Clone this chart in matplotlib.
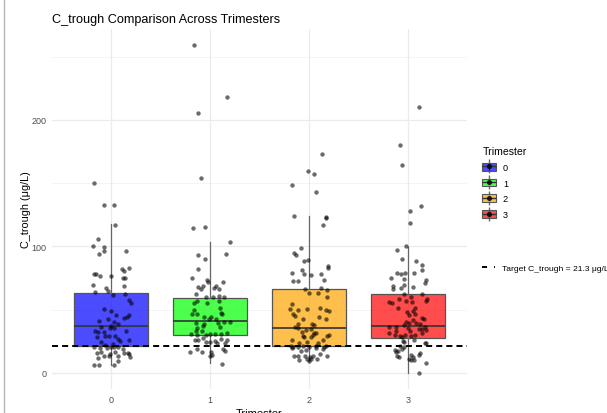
"""C_trough by trimester: box plot with jittered points and target line."""

import matplotlib

matplotlib.use("Agg")
import matplotlib.pyplot as plt
from matplotlib.legend_handler import HandlerTuple
from matplotlib.lines import Line2D
from matplotlib.patches import Patch

plt.rcParams["font.family"] = ["Liberation Sans", "DejaVu Sans"]

trimesters = ["0", "1", "2", "3"]
box_colors = ["#0000FF", "#00FF00", "#FFA500", "#FF0000"]
target = 21.3

# box statistics (lower whisker, Q1, median, Q3, upper whisker)
whisker_low = [6.5, 7.6, 9.7, 0.2]
q1 = [21.3, 29.7, 21.3, 27.3]
median = [37.3, 41.2, 35.4, 37.3]
q3 = [63.5, 59.3, 66.4, 62.7]
whisker_high = [117.9, 103.4, 124.4, 99.5]

# individual observations and their horizontal jitter (category units)
t0_values = [150.2, 132.5, 132.5, 117.3, 105.5, 100.3, 99.7, 96.0, 93.7, 96.6,
             78.2, 78.2, 76.6, 76.4, 82.4, 80.6, 82.7, 75.3, 75.3, 69.6,
             67.5, 68.5, 64.8, 64.0, 62.2, 61.4, 57.5, 55.6, 50.6, 49.1,
             45.9, 44.4, 43.3, 45.4, 42.3, 40.7, 40.2, 38.6, 37.0, 35.4,
             35.4, 36.0, 32.8, 32.3, 32.3, 33.3, 28.9, 29.4, 29.4, 27.0,
             26.0, 28.1, 25.4, 23.1, 24.2, 22.3, 20.2, 19.9, 19.7, 20.2,
             20.2, 20.2, 18.9, 15.7, 16.3, 13.6, 13.1, 13.6, 15.7, 15.0,
             12.4, 11.6, 6.5, 6.5, 6.5, 15.0, 16.3, 15.5, 9.7]
t0_jitter = [-0.17, -0.07, 0.03, 0.04, -0.13, -0.19, -0.07, -0.07, -0.12, 0.15,
             -0.18, -0.15, -0.11, 0.00, 0.11, 0.13, 0.18, 0.12, 0.14, -0.19,
             -0.05, 0.13, -0.03, -0.16, 0.14, 0.02, 0.18, 0.20, -0.07, 0.00,
             0.18, 0.16, 0.13, 0.05, -0.03, -0.12, 0.03, 0.07, 0.00, -0.01,
             0.03, -0.10, -0.16, -0.13, -0.07, 0.15, -0.06, -0.02, 0.04, 0.07,
             0.18, -0.14, 0.09, 0.02, -0.10, -0.06, -0.17, -0.11, -0.04, 0.00,
             0.03, 0.07, 0.12, -0.14, -0.10, -0.07, -0.02, 0.07, 0.17, 0.18,
             0.19, -0.13, -0.18, -0.12, 0.03, -0.01, 0.04, 0.13, 0.07]

t1_values = [258.9, 218.4, 205.8, 153.7, 114.2, 115.0, 103.4, 93.5, 94.0, 89.8,
             82.2, 75.3, 73.2, 71.9, 71.9, 68.0, 68.8, 66.1, 68.8, 67.2,
             66.7, 62.0, 60.1, 60.1, 60.9, 60.1, 55.6, 56.5, 54.9, 56.7,
             51.2, 49.9, 46.7, 46.5, 47.2, 46.2, 44.1, 42.8, 44.4, 42.5,
             40.2, 40.2, 39.1, 38.3, 39.4, 37.3, 35.2, 36.0, 32.8, 30.7,
             32.8, 30.2, 30.9, 30.9, 30.4, 31.3, 30.2, 26.2, 26.0, 27.3,
             24.2, 24.2, 25.0, 23.4, 26.8, 26.2, 23.6, 18.9, 17.6, 18.9,
             16.3, 16.3, 16.3, 14.4, 13.1, 7.1]
t1_jitter = [-0.16, 0.17, -0.12, -0.09, -0.17, -0.05, 0.20, -0.12, 0.16, -0.05,
             -0.12, -0.18, -0.03, -0.02, 0.13, -0.12, -0.07, -0.09, 0.06, 0.04,
             0.09, -0.14, -0.04, 0.03, 0.09, 0.14, -0.16, -0.13, -0.03, 0.09,
             0.10, -0.16, -0.18, -0.13, 0.11, 0.12, 0.01, -0.01, -0.06, 0.06,
             0.14, 0.20, -0.14, -0.06, 0.08, -0.07, -0.13, 0.10, -0.14, -0.19,
             -0.08, -0.04, 0.00, 0.05, 0.11, 0.17, -0.13, -0.15, -0.12, -0.07,
             -0.04, 0.00, 0.05, 0.07, 0.11, 0.17, 0.15, 0.13, 0.15, -0.13,
             -0.20, -0.08, 0.01, 0.02, 0.00, 0.12]

t2_values = [173.2, 159.6, 157.2, 148.6, 143.1, 124.4, 123.1, 122.6, 116.8, 98.7,
             94.7, 92.9, 89.5, 88.4, 84.3, 83.2, 81.4, 79.3, 78.0, 77.4,
             78.2, 73.5, 72.4, 73.0, 66.7, 66.9, 65.9, 63.2, 63.0, 60.4,
             54.3, 50.2, 49.9, 50.2, 51.0, 49.6, 49.1, 46.5, 44.6, 43.9,
             42.8, 42.3, 38.3, 37.8, 38.6, 36.0, 35.2, 34.1, 34.4, 32.3,
             31.5, 31.7, 30.2, 29.4, 28.1, 28.1, 30.2, 28.9, 26.2, 26.2,
             24.6, 23.9, 23.4, 21.0, 20.8, 20.8, 21.0, 20.8, 21.2, 20.8,
             21.0, 19.8, 18.4, 19.7, 18.9, 17.6, 15.0, 13.4, 13.4, 13.6,
             12.8, 13.4, 13.6, 10.5, 11.0, 10.8, 11.0, 9.7]
t2_jitter = [0.13, -0.01, 0.05, -0.17, 0.07, -0.15, 0.17, 0.17, 0.14, -0.08,
             -0.15, -0.13, -0.01, -0.05, 0.19, 0.19, -0.07, -0.17, -0.05, 0.02,
             0.12, 0.15, -0.16, -0.11, -0.04, 0.12, 0.18, 0.00, 0.09, 0.18,
             -0.17, -0.19, -0.11, -0.02, 0.11, 0.17, 0.20, -0.16, -0.14, 0.10,
             0.17, -0.06, 0.03, 0.05, -0.11, -0.14, -0.11, -0.03, 0.02, -0.07,
             0.05, 0.07, 0.04, -0.06, -0.05, 0.02, 0.20, 0.18, 0.14, -0.17,
             -0.02, 0.09, -0.10, -0.18, -0.16, -0.11, -0.06, 0.00, 0.07, 0.15,
             0.17, -0.17, -0.03, 0.07, 0.14, -0.08, 0.11, -0.15, -0.11, -0.04,
             0.01, 0.04, 0.18, -0.10, -0.02, 0.02, 0.08, 0.00]

t3_values = [210.5, 180.3, 164.3, 132.0, 127.6, 118.4, 100.0, 97.4, 90.0, 88.4,
             85.6, 81.4, 79.0, 79.0, 78.0, 75.1, 78.7, 74.0, 73.5, 70.9,
             68.8, 66.4, 66.9, 69.5, 68.0, 62.2, 62.7, 59.8, 58.5, 56.9,
             56.4, 55.1, 56.4, 58.3, 57.2, 51.4, 51.4, 49.1, 47.8, 46.5,
             45.4, 43.6, 42.5, 41.7, 40.4, 39.1, 39.1, 38.6, 37.8, 36.0,
             36.0, 36.0, 34.6, 34.4, 34.1, 35.4, 33.3, 31.5, 33.1, 31.3,
             30.2, 30.2, 30.2, 28.9, 28.1, 28.9, 25.4, 24.2, 26.0, 21.5,
             23.6, 23.6, 20.2, 18.1, 17.6, 18.9, 16.3, 15.5, 14.4, 14.4,
             13.4, 12.8, 12.4, 11.0, 10.5, 10.2, 7.6, 0.2]
t3_jitter = [0.11, -0.08, -0.06, 0.13, 0.02, 0.02, -0.02, -0.11, -0.06, 0.08,
             0.14, 0.14, 0.06, -0.11, -0.07, -0.17, -0.03, -0.04, 0.19, 0.18,
             -0.15, -0.15, -0.07, -0.04, 0.05, -0.04, 0.14, 0.03, -0.09, -0.02,
             -0.19, -0.16, 0.04, 0.20, 0.19, -0.10, 0.07, 0.05, -0.01, 0.07,
             0.01, 0.14, 0.16, 0.05, -0.02, 0.01, 0.08, 0.12, -0.04, -0.19,
             -0.12, 0.17, 0.14, 0.11, 0.19, 0.00, -0.12, -0.19, 0.02, 0.14,
             -0.13, -0.03, 0.07, -0.08, -0.06, 0.03, -0.05, -0.04, 0.06, -0.08,
             0.17, 0.19, -0.04, -0.13, -0.10, -0.06, -0.12, 0.12, 0.11, 0.03,
             -0.11, -0.09, 0.05, 0.01, 0.03, 0.06, 0.19, 0.11]

all_values = [t0_values, t1_values, t2_values, t3_values]
all_jitter = [t0_jitter, t1_jitter, t2_jitter, t3_jitter]

W, H = 607, 414
fig = plt.figure(figsize=(W / 100, H / 100), dpi=100)
ax = fig.add_axes([52 / W, (H - 390) / H, (467 - 52) / W, (390 - 30) / H])

grey_text = "#4d4d4d"
for y in (50, 150, 250):
    ax.axhline(y, color="#f2f2f2", linewidth=0.6, zorder=0)
for y in (0, 100, 200):
    ax.axhline(y, color="#ebebeb", linewidth=0.9, zorder=0)
for i in range(len(trimesters)):
    ax.axvline(i, color="#ebebeb", linewidth=0.9, zorder=0)

stats = [
    dict(whislo=whisker_low[i], q1=q1[i], med=median[i], q3=q3[i], whishi=whisker_high[i], fliers=[])
    for i in range(len(trimesters))
]
bp = ax.bxp(
    stats,
    positions=range(len(trimesters)),
    widths=0.75,
    patch_artist=True,
    showcaps=False,
    boxprops=dict(edgecolor="#555555", linewidth=0.9),
    whiskerprops=dict(color="#666666", linewidth=0.9),
    medianprops=dict(color="#333333", linewidth=1.2),
    zorder=2,
)
for patch, color in zip(bp["boxes"], box_colors):
    patch.set_facecolor(matplotlib.colors.to_rgba(color, 0.7))

ax.axhline(target, color="black", linewidth=1.4, dashes=(3.1, 2.1), zorder=3)

for i, (vals, jit) in enumerate(zip(all_values, all_jitter)):
    xs = [i + j for j in jit]
    ax.scatter(xs, vals, s=10, color="black", alpha=0.58, linewidths=0, zorder=4)

ax.set_xlim(-0.6, 3.6)
ax.set_ylim(-12.7, 271.8)
ax.set_xticks(range(len(trimesters)))
ax.set_xticklabels(trimesters)
ax.set_yticks([0, 100, 200])
ax.tick_params(length=0, labelsize=6.5, colors=grey_text, pad=4)
for spine in ax.spines.values():
    spine.set_visible(False)
ax.set_xlabel("Trimester", fontsize=8, labelpad=3)
ax.set_ylabel("C_trough (μg/L)", fontsize=7.8, labelpad=0.5)
ax.set_title("C_trough Comparison Across Trimesters", fontsize=9.1, loc="left", pad=5)

handles = [
    (
        Line2D([], [], marker="|", markersize=10, color="#666666", linestyle="None"),
        Patch(facecolor=matplotlib.colors.to_rgba(c, 0.7), edgecolor="#555555", linewidth=0.8),
        Line2D([], [], marker="_", markersize=10, color="#333333", linestyle="None"),
        Line2D([], [], marker="o", markersize=2.8, color="black", alpha=0.7, linestyle="None"),
    )
    for c in box_colors
]
fig.legend(
    handles,
    trimesters,
    title="Trimester",
    loc="upper left",
    bbox_to_anchor=(474 / W, (H - 139) / H),
    frameon=False,
    fontsize=6.6,
    title_fontsize=7.6,
    handler_map={tuple: HandlerTuple(ndivide=1, pad=0)},
    handlelength=1.55,
    handleheight=0.95,
    labelspacing=0.72,
    handletextpad=0.7,
    alignment="left",
)

target_handle = Line2D([], [], color="black", linewidth=1.4, dashes=(2.6, 3.6))
fig.legend(
    [target_handle],
    [f"Target C_trough = {target} μg/L"],
    loc="upper left",
    bbox_to_anchor=(474 / W, (H - 257) / H),
    frameon=False,
    fontsize=6.1,
    handlelength=1.6,
    handletextpad=0.75,
)

fig.add_artist(Line2D([4 / W, 4 / W], [0, 1], transform=fig.transFigure, color="#b5b5b5", linewidth=1.0))

fig.savefig("out.png", dpi=100)
